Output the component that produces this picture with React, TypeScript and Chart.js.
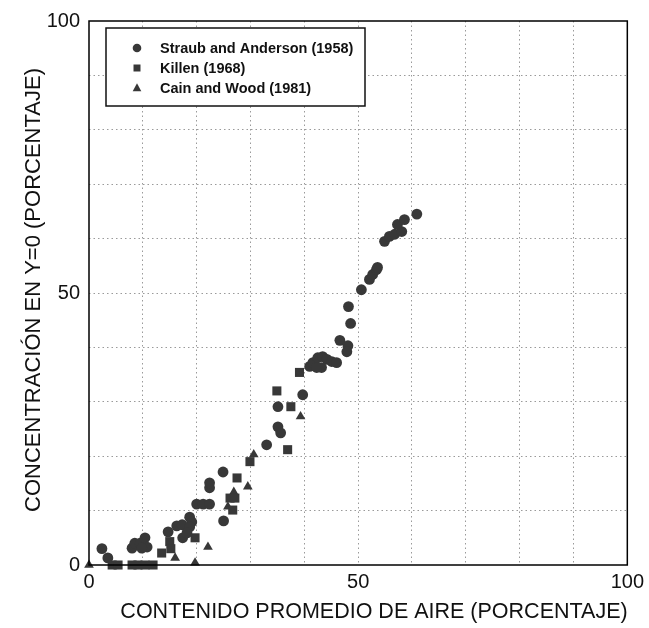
import React, { useEffect, useRef } from 'react';
import { Chart, registerables } from 'chart.js';

Chart.register(...registerables);

const seriesLabels = ['Straub and Anderson (1958)', 'Killen (1968)', 'Cain and Wood (1981)'];

const straubX = [2.4, 3.5, 8, 8.5, 9.5, 10.4, 10.8, 9.8, 14.7, 16.3, 17.3, 18.7, 19.1, 18.7, 17.4, 18.2, 20, 21.2, 22.4, 22.4, 22.4, 24.9, 25, 33, 35.1, 35.6, 35.1, 39.7, 41, 41.6, 42.5, 43.4, 44.2, 45.1, 46, 43.2, 42.3, 46.6, 48.1, 47.9, 48.6, 48.2, 50.6, 52.1, 52.7, 53.4, 53.6, 54.9, 55.8, 56.8, 58.1, 57.3, 58.6, 60.9];
const straubY = [3, 1.3, 3.1, 4, 4, 5, 3.3, 3.1, 6.1, 7.2, 7.4, 8.8, 7.9, 7, 5, 5.9, 11.2, 11.2, 11.2, 14.2, 15.1, 17.1, 8.1, 22.1, 25.4, 24.3, 29.1, 31.3, 36.5, 37.2, 38.1, 38.3, 37.8, 37.4, 37.2, 36.3, 36.3, 41.3, 40.3, 39.2, 44.4, 47.5, 50.6, 52.5, 53.4, 54.3, 54.7, 59.5, 60.4, 60.8, 61.3, 62.6, 63.5, 64.5];

const killenX = [4.3, 5.4, 8, 9.1, 10.4, 11.9, 13.5, 15, 15.2, 19.7, 26.7, 26.2, 27.1, 27.5, 29.9, 36.9, 37.5, 34.9, 39.1];
const killenY = [0, 0, 0, 0, 0, 0, 2.2, 4.3, 3, 5, 10.1, 12.3, 12.3, 16, 19, 21.2, 29.1, 32, 35.4];

const cainX = [0, 16, 19.7, 22.1, 25.8, 26.9, 29.5, 30.6, 39.3];
const cainY = [0, 1.3, 0.4, 3.3, 10.7, 13.4, 14.4, 20.3, 27.3];

const xTickLabels = ['0', '50', '100'];
const yTickLabels = ['0', '50', '100'];

const xTitle = 'CONTENIDO PROMEDIO DE AIRE (PORCENTAJE)';
const yTitle = 'CONCENTRACIÓN EN Y=0 (PORCENTAJE)';

const FONT = "'Liberation Sans', Arial, sans-serif";
const MARK = '#383838';

const toPoints = (xs: number[], ys: number[]) => xs.map((x, i) => ({ x, y: ys[i] }));

function drawMarker(ctx: CanvasRenderingContext2D, style: string, x: number, y: number, r: number) {
  ctx.beginPath();
  if (style === 'circle') {
    ctx.arc(x, y, r, 0, Math.PI * 2);
  } else if (style === 'rect') {
    ctx.rect(x - r, y - r, 2 * r, 2 * r);
  } else {
    ctx.moveTo(x, y - r * 1.1);
    ctx.lineTo(x + r, y + r * 0.75);
    ctx.lineTo(x - r, y + r * 0.75);
    ctx.closePath();
  }
  ctx.fill();
}

const framePlugin = {
  id: 'frameAndLegend',
  afterDraw(chart: any) {
    const { ctx, chartArea } = chart;
    ctx.save();
    // frame
    ctx.strokeStyle = '#000';
    ctx.lineWidth = 1.5;
    ctx.strokeRect(chartArea.left, chartArea.top, chartArea.right - chartArea.left, chartArea.bottom - chartArea.top);
    // axis titles
    ctx.fillStyle = '#111';
    ctx.textAlign = 'center';
    ctx.textBaseline = 'middle';
    ctx.font = `21.5px ${FONT}`;
    ctx.fillText(xTitle, 374, 612);
    ctx.save();
    ctx.translate(34, 290);
    ctx.rotate(-Math.PI / 2);
    ctx.font = `22px ${FONT}`;
    ctx.fillText(yTitle, 0, 0);
    ctx.restore();
    // legend box
    const bx = 106, by = 28, bw = 259, bh = 78;
    ctx.fillStyle = '#fff';
    ctx.fillRect(bx, by, bw, bh);
    ctx.strokeStyle = '#111';
    ctx.lineWidth = 1.5;
    ctx.strokeRect(bx, by, bw, bh);
    const styles = ['circle', 'rect', 'triangle'];
    const sizes = [4.3, 3.5, 4.3];
    chart.data.datasets.forEach((ds: any, i: number) => {
      const y = 48 + i * 20;
      ctx.fillStyle = MARK;
      drawMarker(ctx, styles[i], 137, y, sizes[i]);
      ctx.fillStyle = '#111';
      ctx.font = `bold 14.5px ${FONT}`;
      ctx.textBaseline = 'middle';
      ctx.textAlign = 'left';
      ctx.fillText(ds.label, 160, y + 1);
    });
    ctx.restore();
  },
};

export default function App() {
  const ref = useRef<HTMLCanvasElement | null>(null);

  useEffect(() => {
    document.body.style.margin = '0';
    const canvas = ref.current;
    if (!canvas) return;
    const gridColor = (c: any) =>
      c.tick && (c.tick.value === 0 || c.tick.value === 100) ? 'rgba(0,0,0,0)' : '#9a9a9a';
    const chart = new Chart(canvas, {
      type: 'scatter',
      data: {
        datasets: [
          { label: seriesLabels[0], data: toPoints(straubX, straubY), pointStyle: 'circle', pointRadius: 5.4, backgroundColor: MARK, borderColor: MARK, borderWidth: 0, clip: false },
          { label: seriesLabels[1], data: toPoints(killenX, killenY), pointStyle: 'rect', pointRadius: 6.4, backgroundColor: MARK, borderColor: MARK, borderWidth: 0, clip: false },
          { label: seriesLabels[2], data: toPoints(cainX, cainY), pointStyle: 'triangle', pointRadius: 5.6, backgroundColor: MARK, borderColor: MARK, borderWidth: 0, clip: false },
        ],
      },
      options: {
        responsive: false,
        animation: false,
        layout: { padding: { top: 20, right: 20, left: 0, bottom: 0 } },
        plugins: { legend: { display: false }, tooltip: { enabled: false }, title: { display: false } },
        scales: {
          x: {
            type: 'linear',
            min: 0,
            max: 100,
            afterFit: (s: any) => { s.height = 63; },
            ticks: {
              stepSize: 10,
              autoSkip: false,
              maxRotation: 0,
              padding: 5,
              color: '#111',
              font: { family: FONT, size: 20 },
              callback: (v: any) => (xTickLabels.includes(String(v)) ? String(v) : ''),
            },
            grid: { color: gridColor, lineWidth: 1, drawTicks: false },
            border: { display: false, dash: [1.5, 3] },
            title: { display: false, text: xTitle },
          },
          y: {
            type: 'linear',
            min: 0,
            max: 100,
            afterFit: (s: any) => { s.width = 89; },
            ticks: {
              stepSize: 10,
              autoSkip: false,
              padding: 9,
              color: '#111',
              font: { family: FONT, size: 20 },
              callback: (v: any) => (yTickLabels.includes(String(v)) ? String(v) : ''),
            },
            grid: { color: gridColor, lineWidth: 1, drawTicks: false },
            border: { display: false, dash: [1.5, 3] },
            title: { display: false, text: yTitle },
          },
        },
      },
      plugins: [framePlugin],
    } as any);
    return () => chart.destroy();
  }, []);

  return (
    <div style={{ width: 649, height: 628 }}>
      <canvas ref={ref} width={649} height={628} style={{ display: 'block', width: 649, height: 628 }} />
    </div>
  );
}
